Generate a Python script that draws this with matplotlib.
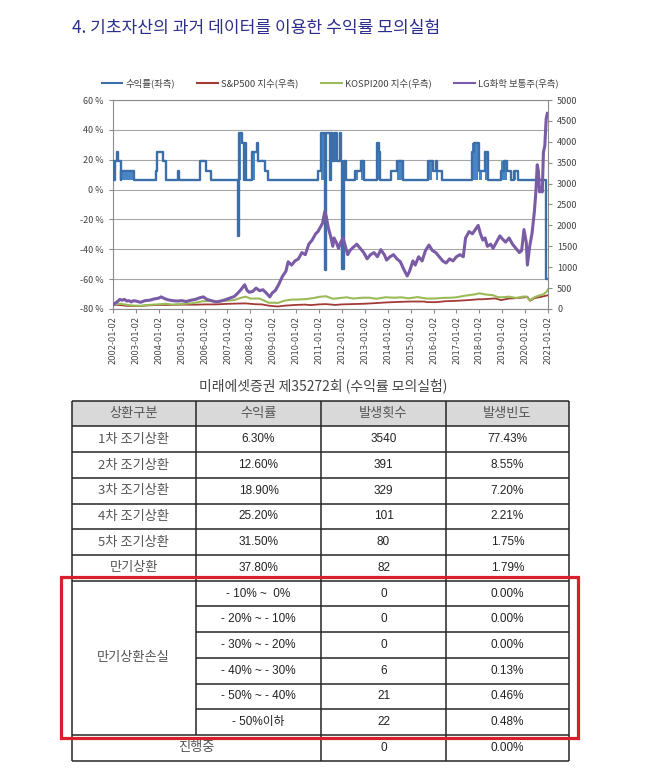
import matplotlib
matplotlib.use('Agg')
import matplotlib.pyplot as plt
from matplotlib.lines import Line2D
from matplotlib.patches import Rectangle

plt.rcParams['font.family'] = ['Noto Sans CJK KR', 'DejaVu Sans']

# ---------------- data ----------------
title = '4. 기초자산의 과거 데이터를 이용한 수익률 모의실험'
legend_labels = ['수익률(좌측)', 'S&P500 지수(우측)', 'KOSPI200 지수(우측)', 'LG화학 보통주(우측)']
tick_years = list(range(2002, 2022))
xtick_labels = [f'{y}-01-02' for y in tick_years]
left_ticks = [60, 40, 20, 0, -20, -40, -60, -80]
right_ticks = list(range(0, 5001, 500))

# simulated return by start date (step series, %)
ret_t = [2002.00, 2002.05, 2002.08, 2002.18, 2002.24, 2002.33, 2002.36, 2002.93,
         2003.88, 2003.92, 2004.19, 2004.30, 2004.83, 2004.87, 2005.80, 2006.05,
         2006.30, 2007.46, 2007.49, 2007.63, 2007.72, 2007.75, 2007.80, 2008.08,
         2008.28, 2008.34, 2008.64, 2008.78, 2010.95, 2011.10, 2011.24, 2011.30,
         2011.48, 2011.50, 2011.62, 2011.70, 2011.78, 2011.90, 2011.95, 2012.00,
         2012.10, 2012.18, 2012.56, 2012.83, 2012.95, 2013.54, 2013.62, 2013.68,
         2014.16, 2014.40, 2014.66, 2015.74, 2015.97, 2016.10, 2016.16, 2016.35,
         2017.66, 2017.76, 2017.98, 2018.24, 2018.39, 2018.93, 2019.07, 2019.22,
         2019.38, 2019.52, 2019.67, 2020.90, 2020.96]
ret_v = [18.9, 6.3, 18.9, 25.2, 18.9, 6.3, 12.6, 6.3,
         12.6, 25.2, 18.9, 6.3, 12.6, 6.3, 18.9, 12.6,
         6.3, -30.8, 37.8, 31.5, 6.3, 31.5, 6.3, 25.2,
         31.5, 18.9, 12.6, 6.3, 12.6, 37.8, -54.0, 37.8,
         6.3, 37.8, 18.9, 37.8, 18.9, 37.8, 18.9, -53.0,
         18.9, 6.3, 12.6, 18.9, 6.3, 31.5, 25.2, 6.3,
         12.6, 18.9, 6.3, 18.9, 12.6, 18.9, 12.6, 6.3,
         25.2, 31.5, 12.6, 25.2, 6.3, 12.6, 18.9, 12.6,
         6.3, 12.6, 6.3, -60.0, -60.0]

# densely oscillating periods that appear as solid blue blocks
band_t0 = [2002.00, 2002.36, 2007.49, 2008.08, 2011.10, 2011.21, 2011.95, 2012.56, 2012.83,
           2013.54, 2014.40, 2015.74, 2016.10, 2017.66, 2018.00, 2018.24, 2018.95, 2019.52]
band_t1 = [2002.06, 2002.93, 2007.58, 2008.22, 2011.30, 2011.27, 2012.08, 2012.70, 2012.93,
           2013.62, 2014.64, 2015.95, 2016.20, 2017.96, 2018.10, 2018.36, 2019.20, 2019.62]
band_lo = [6.3, 6.3, 6.3, 6.3, 6.3, -54.0, -53.0, 6.3, 6.3,
           6.3, 6.3, 6.3, 6.3, 6.3, 6.3, 6.3, 6.3, 6.3]
band_hi = [18.9, 12.6, 37.8, 25.2, 37.8, 6.3, 18.9, 12.6, 18.9,
           31.5, 18.9, 18.9, 18.9, 31.5, 12.6, 25.2, 18.9, 12.6]

# S&P500 (normalised, right axis)
spx_t = [2002.0, 2002.3, 2002.55, 2002.8, 2003.2, 2003.5, 2004.0, 2004.5, 2005.0, 2005.5,
         2006.0, 2006.5, 2007.0, 2007.5, 2007.8, 2008.2, 2008.5, 2008.8, 2009.2, 2009.5,
         2010.0, 2010.4, 2010.6, 2011.0, 2011.3, 2011.7, 2012.0, 2012.5, 2013.0, 2013.5,
         2014.0, 2014.5, 2015.0, 2015.6, 2015.7, 2016.1, 2016.5, 2017.0, 2017.5, 2018.0,
         2018.1, 2018.7, 2018.95, 2019.3, 2019.6, 2020.0, 2020.1, 2020.22, 2020.4, 2020.7, 2021.0]
spx_v = [100, 95, 78, 72, 72, 85, 98, 97, 104, 103,
         109, 110, 123, 131, 134, 115, 110, 80, 60, 80,
         98, 105, 93, 110, 117, 98, 110, 118, 126, 142,
         159, 170, 179, 178, 165, 163, 185, 196, 212, 234,
         232, 253, 212, 251, 258, 280, 292, 196, 260, 290, 330]

# KOSPI200 (normalised, right axis)
k200_t = [2002.0, 2002.3, 2002.6, 2002.8, 2003.2, 2003.5, 2003.8, 2004.3, 2004.6, 2005.0,
          2005.5, 2005.9, 2006.3, 2006.5, 2006.9, 2007.3, 2007.6, 2007.8, 2008.0, 2008.4,
          2008.8, 2009.0, 2009.2, 2009.5, 2009.8, 2010.0, 2010.4, 2010.8, 2011.0, 2011.3,
          2011.6, 2011.8, 2012.2, 2012.5, 2012.9, 2013.2, 2013.5, 2013.9, 2014.3, 2014.6,
          2014.9, 2015.3, 2015.7, 2016.0, 2016.4, 2016.8, 2017.0, 2017.4, 2017.8, 2018.0,
          2018.3, 2018.6, 2018.8, 2019.0, 2019.3, 2019.6, 2019.9, 2020.05, 2020.2, 2020.4,
          2020.6, 2020.8, 2020.95, 2021.0]
k200_v = [100, 125, 100, 85, 75, 95, 105, 125, 105, 120,
          140, 185, 190, 175, 195, 215, 270, 295, 250, 250,
          150, 150, 145, 200, 225, 225, 235, 265, 290, 305,
          245, 255, 280, 250, 270, 270, 245, 280, 270, 280,
          255, 285, 250, 250, 265, 270, 280, 320, 350, 375,
          345, 330, 285, 280, 295, 265, 295, 300, 205, 280,
          320, 350, 420, 470]

# LG Chem (normalised, right axis)
lg_t = [2002.00, 2002.10, 2002.20, 2002.30, 2002.40, 2002.50, 2002.60, 2002.70, 2002.80, 2002.90,
        2003.00, 2003.20, 2003.40, 2003.60, 2003.80, 2004.00, 2004.10, 2004.25, 2004.40, 2004.60,
        2004.80, 2005.00, 2005.20, 2005.40, 2005.60, 2005.80, 2005.95, 2006.10, 2006.30, 2006.50,
        2006.70, 2006.90, 2007.10, 2007.30, 2007.45, 2007.60, 2007.75, 2007.85, 2007.95, 2008.10,
        2008.25, 2008.40, 2008.55, 2008.70, 2008.85, 2008.95, 2009.10, 2009.25, 2009.40, 2009.55,
        2009.65, 2009.80, 2009.95, 2010.10, 2010.25, 2010.40, 2010.55, 2010.70, 2010.85, 2010.95,
        2011.05, 2011.15, 2011.25, 2011.32, 2011.40, 2011.50, 2011.60, 2011.65, 2011.75, 2011.85,
        2011.95, 2012.05, 2012.15, 2012.25, 2012.35, 2012.50, 2012.65, 2012.80, 2012.95, 2013.10,
        2013.25, 2013.40, 2013.55, 2013.70, 2013.85, 2013.95, 2014.10, 2014.25, 2014.40, 2014.55,
        2014.70, 2014.85, 2014.95, 2015.10, 2015.20, 2015.35, 2015.50, 2015.65, 2015.80, 2015.95,
        2016.10, 2016.25, 2016.40, 2016.55, 2016.70, 2016.85, 2017.00, 2017.15, 2017.30, 2017.40,
        2017.55, 2017.70, 2017.85, 2017.95, 2018.05, 2018.15, 2018.25, 2018.35, 2018.50, 2018.60,
        2018.75, 2018.90, 2019.00, 2019.15, 2019.30, 2019.45, 2019.60, 2019.75, 2019.85, 2019.95,
        2020.05, 2020.10, 2020.20, 2020.30, 2020.40, 2020.47, 2020.53, 2020.58, 2020.63, 2020.70,
        2020.75, 2020.80, 2020.86, 2020.92, 2020.97]
lg_v = [100, 140, 180, 230, 210, 230, 190, 200, 170, 200,
        190, 160, 200, 210, 240, 260, 290, 250, 220, 200,
        190, 200, 180, 210, 230, 270, 290, 230, 200, 170,
        190, 220, 260, 300, 380, 470, 580, 450, 400, 420,
        500, 440, 460, 380, 290, 380, 450, 600, 780, 900,
        1130, 1050, 1150, 1200, 1350, 1300, 1550, 1650, 1800, 1850,
        1950, 2050, 2330, 2200, 1950, 1750, 1500, 1700, 1600, 1450,
        1600, 1700, 1500, 1300, 1400, 1480, 1550, 1450, 1350, 1200,
        1300, 1350, 1250, 1420, 1300, 1170, 1250, 1300, 1200, 1130,
        950, 790, 900, 1150, 1050, 1250, 1150, 1400, 1530, 1400,
        1350, 1250, 1150, 1100, 1200, 1150, 1250, 1300, 1250, 1700,
        1850, 1800, 1920, 2000, 1800, 1650, 1700, 1500, 1550, 1450,
        1600, 1750, 1680, 1600, 1700, 1550, 1450, 1350, 1400, 1900,
        1600, 1050, 1500, 1800, 2300, 2800, 3450, 3300, 2800, 2900,
        2800, 3750, 3900, 4550, 4680]

# table
table_title = '미래에셋증권 제35272회 (수익률 모의실험)'
table_header = ['상환구분', '수익률', '발생횟수', '발생빈도']
redeem_labels = ['1차 조기상환', '2차 조기상환', '3차 조기상환', '4차 조기상환', '5차 조기상환', '만기상환']
redeem_returns = ['6.30%', '12.60%', '18.90%', '25.20%', '31.50%', '37.80%']
redeem_counts = [3540, 391, 329, 101, 80, 82]
redeem_freqs = ['77.43%', '8.55%', '7.20%', '2.21%', '1.75%', '1.79%']
loss_label = '만기상환손실'
loss_ranges = ['- 10% ~  0%', '- 20% ~ - 10%', '- 30% ~ - 20%', '- 40% ~ - 30%', '- 50% ~ - 40%', '- 50%이하']
loss_counts = [0, 0, 0, 6, 21, 22]
loss_freqs = ['0.00%', '0.00%', '0.00%', '0.13%', '0.46%', '0.48%']
ongoing_label = '진행중'
ongoing_count = 0
ongoing_freq = '0.00%'

# ---------------- figure ----------------
W, H = 658, 779
fig = plt.figure(figsize=(W / 100, H / 100), dpi=100)
fig.patch.set_facecolor('white')

def fx(px):
    return px / W

def fy(py):
    return 1 - py / H

fig.text(fx(72), fy(28), title, fontsize=12.3, color='#2B2E8C', ha='left', va='center')

# chart axes
ax_l, ax_r, ax_t, ax_b = 113, 548, 100, 309
ax = fig.add_axes([fx(ax_l), fy(ax_b), fx(ax_r - ax_l), (ax_b - ax_t) / H])
ax2 = ax.twinx()

blue_line = '#3C6EA8'
blue_fill = '#4A86C6'
c_spx = '#A23A38'
c_k200 = '#9BBB59'
c_lg = '#7A5BA5'
gray_txt = '#404040'
axis_col = '#8C8C8C'

ax.bar(band_t0, [h - l for h, l in zip(band_hi, band_lo)], bottom=band_lo,
       width=[b - a for a, b in zip(band_t0, band_t1)], align='edge',
       color=blue_fill, linewidth=0, zorder=2)
ax.step(ret_t, ret_v, where='post', color=blue_line, lw=1.7, zorder=3)

ax.set_xlim(2002, 2021)
ax.set_ylim(-80, 60)
ax.set_yticks(left_ticks)
ax.set_yticklabels([f'{v} %' for v in left_ticks])
ax.set_xticks(tick_years)
ax.set_xticklabels(xtick_labels, rotation=90, fontsize=6, color=gray_txt,
                   family=['DejaVu Sans'])
ax.tick_params(axis='y', labelsize=6.5, colors=gray_txt, length=3, color=axis_col)
ax.tick_params(axis='x', length=3, color=axis_col, pad=2)
ax.yaxis.grid(True, color='#A6A6A6', lw=0.8)
ax.set_axisbelow(True)
for s in ['left', 'bottom', 'top']:
    ax.spines[s].set_color(axis_col)
    ax.spines[s].set_linewidth(0.8)
ax.spines['right'].set_visible(False)

ax2.plot(spx_t, spx_v, color=c_spx, lw=1.3, zorder=3)
ax2.plot(k200_t, k200_v, color=c_k200, lw=1.5, zorder=3)
ax2.plot(lg_t, lg_v, color=c_lg, lw=2.2, zorder=4)
ax2.set_ylim(0, 5000)
ax2.set_yticks(right_ticks)
ax2.set_yticklabels([str(v) for v in right_ticks])
ax2.tick_params(axis='y', labelsize=6.5, colors=gray_txt, length=3, color=axis_col)
for s in ['left', 'bottom', 'top']:
    ax2.spines[s].set_visible(False)
ax2.spines['right'].set_color(axis_col)
ax2.spines['right'].set_linewidth(0.8)

handles = [Line2D([], [], color=blue_line, lw=1.5), Line2D([], [], color=c_spx, lw=1.5),
           Line2D([], [], color=c_k200, lw=1.5), Line2D([], [], color=c_lg, lw=1.5)]
leg = fig.legend(handles, legend_labels, loc='center', bbox_to_anchor=(fx(330), fy(83)),
                 ncol=4, frameon=False, fontsize=6.8, handlelength=2.2, handletextpad=0.3,
                 columnspacing=2.4)
for t in leg.get_texts():
    t.set_color(gray_txt)

# ---------------- table (overlay in pixel coords) ----------------
ov = fig.add_axes([0, 0, 1, 1])
ov.set_xlim(0, W)
ov.set_ylim(H, 0)
ov.axis('off')

col_x = [71.5, 196, 321, 446, 569]
top = 400.7
rh = 25.72
nrows = 14
line_c = '#262626'
lw = 1.1
kor_c = '#555555'
num_c = '#222222'
fs = 8.5
kfs = 9.5

ov.text(323, 386, table_title, fontsize=10, color='#444444', ha='center', va='center')
ov.add_patch(Rectangle((col_x[0], top), col_x[4] - col_x[0], rh, facecolor='#D9D9D9',
                       edgecolor='none', zorder=1))

for i in range(nrows + 1):
    y = top + i * rh
    x0 = col_x[1] if 8 <= i <= 12 else col_x[0]
    ov.plot([x0, col_x[4]], [y, y], color=line_c, lw=lw, zorder=2, solid_capstyle='butt')
for j, x in enumerate(col_x):
    y1 = top + (13 if j == 1 else nrows) * rh
    ov.plot([x, x], [top, y1], color=line_c, lw=lw, zorder=2, solid_capstyle='butt')

cx = [(col_x[k] + col_x[k + 1]) / 2 for k in range(4)]

def cy(i):
    return top + (i + 0.5) * rh

for k, h in enumerate(table_header):
    ov.text(cx[k], cy(0), h, fontsize=kfs, color=kor_c, ha='center', va='center')
for r in range(6):
    ov.text(cx[0], cy(r + 1), redeem_labels[r], fontsize=kfs, color=kor_c, ha='center', va='center')
    ov.text(cx[1], cy(r + 1), redeem_returns[r], fontsize=fs, color=num_c, ha='center', va='center',
            family=['Liberation Sans'])
    ov.text(cx[2], cy(r + 1), str(redeem_counts[r]), fontsize=fs, color=num_c, ha='center',
            va='center', family=['Liberation Sans'])
    ov.text(cx[3], cy(r + 1), redeem_freqs[r], fontsize=fs, color=num_c, ha='center', va='center',
            family=['Liberation Sans'])
ov.text(cx[0], top + 10 * rh, loss_label, fontsize=kfs, color=kor_c, ha='center', va='center')
for r in range(6):
    ov.text(cx[1], cy(r + 7), loss_ranges[r], fontsize=fs, color=num_c, ha='center', va='center',
            family=['Liberation Sans', 'Noto Sans CJK KR'])
    ov.text(cx[2], cy(r + 7), str(loss_counts[r]), fontsize=fs, color=num_c, ha='center',
            va='center', family=['Liberation Sans'])
    ov.text(cx[3], cy(r + 7), loss_freqs[r], fontsize=fs, color=num_c, ha='center', va='center',
            family=['Liberation Sans'])
ov.text((col_x[0] + col_x[2]) / 2, cy(13), ongoing_label, fontsize=kfs, color=kor_c, ha='center',
        va='center')
ov.text(cx[2], cy(13), str(ongoing_count), fontsize=fs, color=num_c, ha='center', va='center',
        family=['Liberation Sans'])
ov.text(cx[3], cy(13), ongoing_freq, fontsize=fs, color=num_c, ha='center', va='center',
        family=['Liberation Sans'])

ov.add_patch(Rectangle((60.5, 576.5), 517.5, 161.5, facecolor='none', edgecolor='#D7202B',
                       lw=2.3, zorder=5))

fig.savefig('out.png', dpi=100, facecolor='white')
